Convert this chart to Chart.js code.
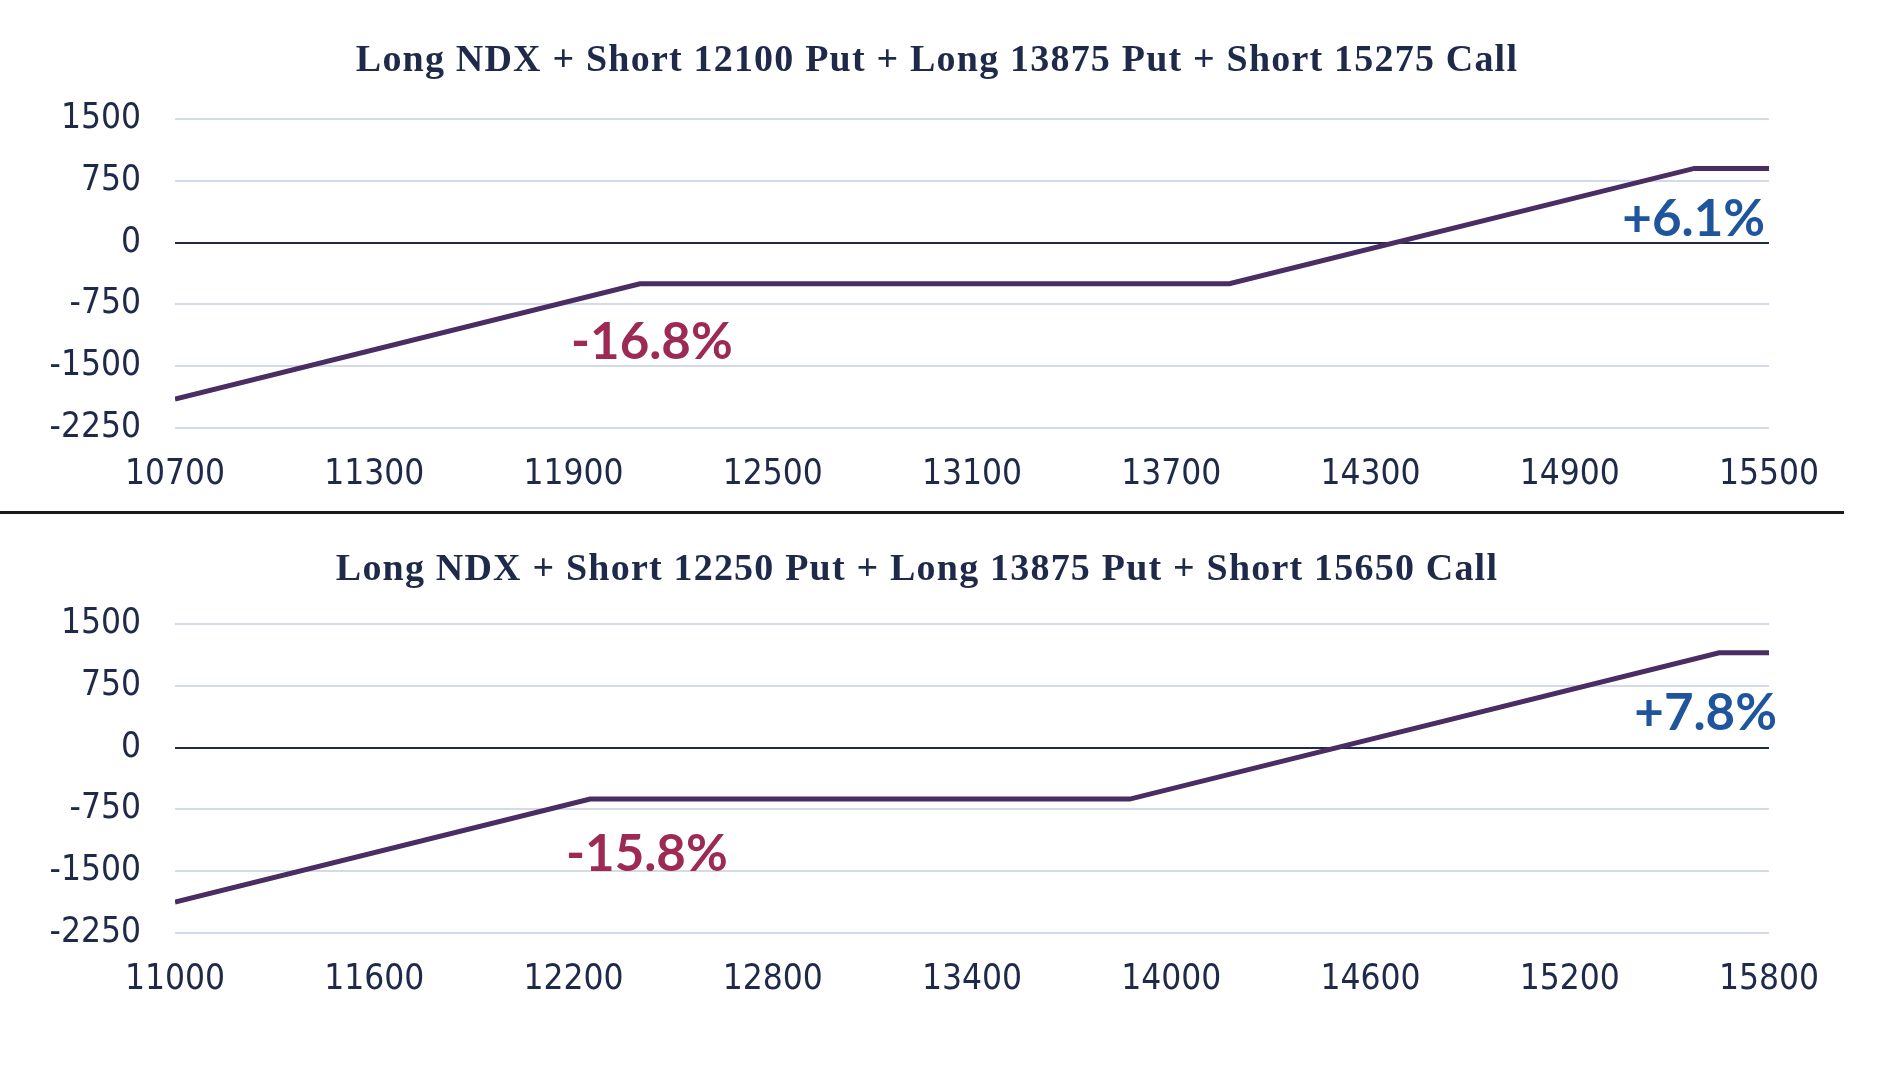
<!DOCTYPE html>
<html lang="en">
<head>
    <meta charset="UTF-8">
    <title>NDX Collar Payoff</title>
    <script src="https://cdn.jsdelivr.net/npm/chart.js"></script>
    <style>
        body { margin: 0; background: #fff; width: 1892px; height: 1072px; position: relative; overflow: hidden; }
        .box { position: absolute; left: 0; width: 1892px; }
        #sep { position: absolute; left: 0; top: 511px; width: 1844px; height: 3px; background: #1a1a1a; }
    </style>
</head>
<body>
    <div class="box" style="top:0;height:513px"><canvas id="topChart"></canvas></div>
    <div id="sep"></div>
    <div class="box" style="top:513px;height:559px"><canvas id="bottomChart"></canvas></div>

    <script>
        // payoff breakpoints
        const topTitle = 'Long NDX + Short 12100 Put + Long 13875 Put + Short 15275 Call';
        const topStrikes = [10700, 12100, 13875, 15275, 15500];
        const topPnl = [-1900, -500, -500, 900, 900];
        const topTicksX = [10700, 15500, 600];

        const bottomTitle = 'Long NDX + Short 12250 Put + Long 13875 Put + Short 15650 Call';
        const bottomStrikes = [11000, 12250, 13875, 15650, 15800];
        const bottomPnl = [-1875, -625, -625, 1150, 1150];
        const bottomTicksX = [11000, 15800, 600];

        const yTicks = [-2250, 1500, 750];

        const topNotes = ['-16.8%', '+6.1%'];
        const bottomNotes = ['-15.8%', '+7.8%'];

        const navy = '#1f2a4a';
        const lineColor = '#4a2d62';
        const red = '#9c2a55';
        const blue = '#1f559c';
        const tickFont = { family: '"DejaVu Sans Condensed", "DejaVu Sans"', size: 35 };

        function makeChart(id, title, xs, ys, xt, notes, place) {
            const pts = xs.map((x, i) => ({ x: x, y: ys[i] }));
            const canvas = document.getElementById(id);
            const h = canvas.parentNode.clientHeight;

            const extras = {
                id: 'extras',
                afterDraw(chart) {
                    const ctx = chart.ctx;
                    const sx = chart.scales.x, sy = chart.scales.y;
                    ctx.save();
                    ctx.fillStyle = navy;
                    ctx.font = 'bold 38px "Liberation Serif"';
                    ctx.letterSpacing = '1.2px';
                    ctx.textAlign = 'center';
                    ctx.textBaseline = 'middle';
                    ctx.fillText(title, place.titleX, place.titleY);
                    ctx.letterSpacing = '0px';

                    ctx.font = 'bold 51px Lato';
                    ctx.fillStyle = red;
                    ctx.textAlign = 'center';
                    ctx.fillText(notes[0], sx.getPixelForValue(place.low[0]), sy.getPixelForValue(place.low[1]));
                    ctx.fillStyle = blue;
                    ctx.textAlign = 'right';
                    ctx.fillText(notes[1], sx.getPixelForValue(place.high[0]), sy.getPixelForValue(place.high[1]));
                    ctx.restore();
                }
            };

            return new Chart(canvas, {
                type: 'line',
                data: {
                    datasets: [{
                        data: pts,
                        borderColor: lineColor,
                        borderWidth: 5,
                        pointRadius: 0,
                        tension: 0
                    }]
                },
                options: {
                    responsive: false,
                    animation: false,
                    layout: { padding: { top: place.top, right: 123, left: 0, bottom: 0 } },
                    plugins: { legend: { display: false }, tooltip: { enabled: false } },
                    scales: {
                        x: {
                            type: 'linear',
                            min: xt[0],
                            max: xt[1],
                            afterFit: s => { s.height = h - place.bottom; },
                            grid: { display: false, drawTicks: false },
                            border: { display: false },
                            ticks: {
                                stepSize: xt[2],
                                padding: 26,
                                color: navy,
                                font: tickFont,
                                maxRotation: 0,
                                callback: v => String(v)
                            }
                        },
                        y: {
                            min: yTicks[0],
                            max: yTicks[1],
                            afterFit: s => { s.width = 175; },
                            grid: {
                                drawTicks: false,
                                color: c => c.tick.value === 0 ? navy : '#d3daeb',
                                lineWidth: 2
                            },
                            border: { display: false },
                            ticks: {
                                stepSize: yTicks[2],
                                padding: 34,
                                color: navy,
                                font: tickFont,
                                callback: v => String(v)
                            }
                        }
                    }
                },
                plugins: [extras]
            });
        }

        document.getElementById('topChart').width = 1892;
        document.getElementById('topChart').height = 513;
        document.getElementById('bottomChart').width = 1892;
        document.getElementById('bottomChart').height = 559;

        makeChart('topChart', topTitle, topStrikes, topPnl, topTicksX, topNotes, {
            top: 119, bottom: 428, titleX: 937, titleY: 61,
            low: [12136, -1213], high: [15488, 278]
        });
        makeChart('bottomChart', bottomTitle, bottomStrikes, bottomPnl, bottomTicksX, bottomNotes, {
            top: 111, bottom: 420, titleX: 917, titleY: 57,
            low: [12421, -1303], high: [15824, 408]
        });
    </script>
</body>
</html>
